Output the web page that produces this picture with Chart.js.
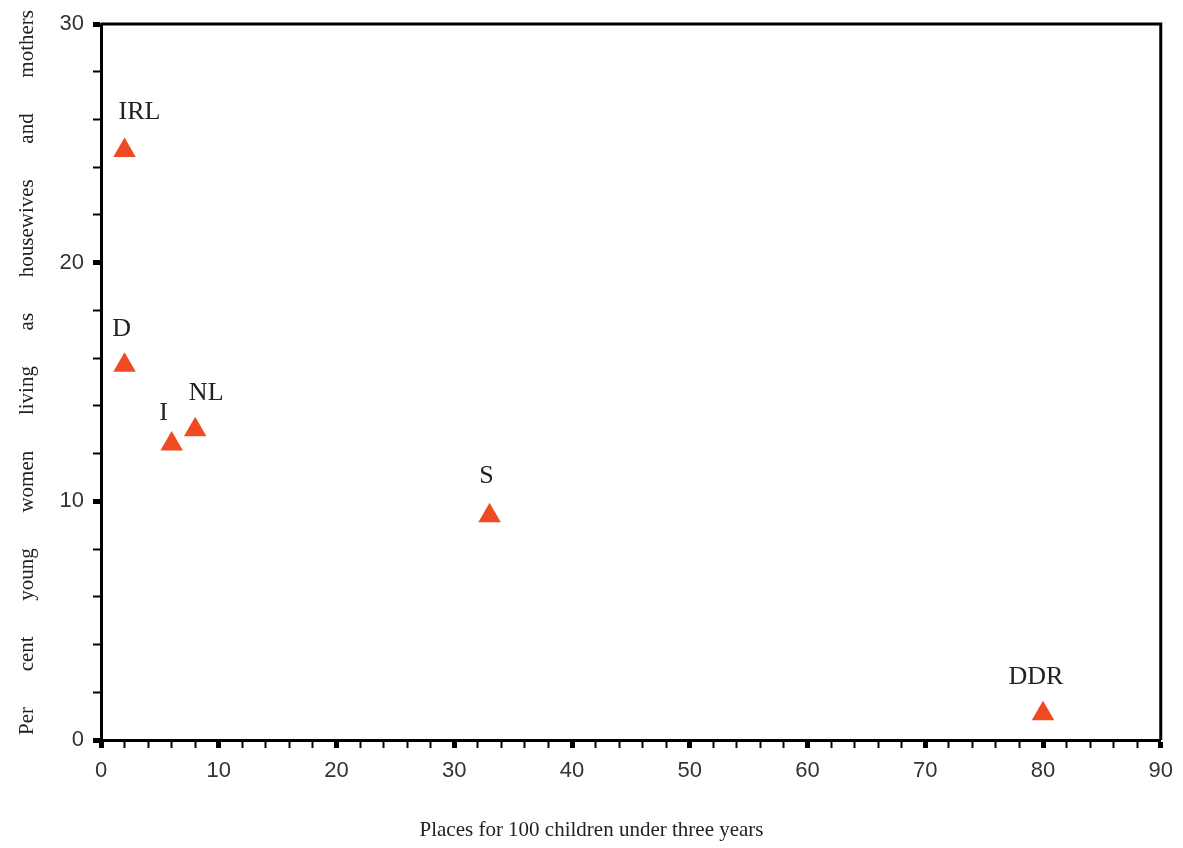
<!DOCTYPE html>
<html>
<head>
<meta charset="utf-8">
<script src="https://cdn.jsdelivr.net/npm/chart.js@4.4.1/dist/chart.umd.min.js"></script>
<style>
  html, body { margin: 0; padding: 0; background: #fff; }
  #wrap { width: 1183px; height: 848px; position: relative; }
</style>
</head>
<body>
<div id="wrap"><canvas id="chart" width="1183" height="848"></canvas></div>
<script>
// --- data ---
const countries = ['IRL', 'D', 'I', 'NL', 'S', 'DDR'];
const childcarePlaces = [2, 2, 6, 8, 33, 80];
const housewivesPct = [24.7, 15.7, 12.4, 13.0, 9.4, 1.1];
const xTickLabels = [0, 10, 20, 30, 40, 50, 60, 70, 80, 90];
const yTickLabels = [0, 10, 20, 30];

const xTitle = 'Places for 100 children under three years';
const yTitleWords = ['Per', 'cent', 'young', 'women', 'living', 'as', 'housewives', 'and', 'mothers'];

// label offsets from each marker (px)
const labelOffsets = {
    IRL: [15, -38], D: [-3, -36], I: [-8, -31], NL: [11, -37], S: [-3, -39], DDR: [-7, -37]
};

const serif = "'Liberation Serif', 'Times New Roman', serif";
const sans = "'Liberation Sans', Arial, sans-serif";

// frame (top + right) and texts
const decorPlugin = {
    id: 'decor',
    afterDraw(chart) {
        const { ctx, chartArea: a } = chart;
        ctx.save();
        ctx.strokeStyle = '#000';
        ctx.lineWidth = 3;
        ctx.beginPath();
        ctx.moveTo(a.left, a.top);
        ctx.lineTo(a.right, a.top);
        ctx.lineTo(a.right, a.bottom);
        ctx.stroke();

        // point labels
        const meta = chart.getDatasetMeta(0);
        ctx.font = `26px ${serif}`;
        ctx.fillStyle = '#222';
        ctx.textAlign = 'center';
        ctx.textBaseline = 'middle';
        meta.data.forEach((pt, i) => {
            const name = countries[i];
            const off = labelOffsets[name] || [0, -36];
            ctx.fillText(name, pt.x + off[0], pt.y + off[1]);
        });

        // x title
        ctx.font = `21px ${serif}`;
        ctx.fillText(xTitle, chart.width / 2, 830);

        // y title, words spread over the axis height
        ctx.translate(27, 0);
        ctx.rotate(-Math.PI / 2);
        ctx.textAlign = 'left';
        const start = -735, end = -10;
        const widths = yTitleWords.map(w => ctx.measureText(w).width);
        const total = widths.reduce((s, w) => s + w, 0);
        const gap = (end - start - total) / (yTitleWords.length - 1);
        let pos = start;
        yTitleWords.forEach((w, i) => {
            ctx.fillText(w, pos, 0);
            pos += widths[i] + gap;
        });
        ctx.restore();
    }
};

const tickW = (c) => (c.tick && c.tick.value % 10 === 0 ? 5 : 2);

new Chart(document.getElementById('chart').getContext('2d'), {
    type: 'scatter',
    data: {
        datasets: [{
            data: childcarePlaces.map((x, i) => ({ x, y: housewivesPct[i] })),
            pointStyle: 'triangle',
            pointRadius: 13,
            pointHoverRadius: 13,
            backgroundColor: '#EF4B23',
            borderWidth: 0,
            clip: false
        }]
    },
    options: {
        responsive: false,
        animation: false,
        layout: { padding: { top: 24, right: 18, left: 0, bottom: 0 } },
        plugins: { legend: { display: false }, tooltip: { enabled: false } },
        scales: {
            x: {
                type: 'linear', min: 0, max: 90,
                afterFit(s) { s.height = 108; },
                border: { color: '#000', width: 3 },
                grid: { drawOnChartArea: false, drawTicks: true, tickLength: 8, tickColor: '#000', tickWidth: tickW },
                ticks: {
                    stepSize: 2, autoSkip: false, maxRotation: 0, padding: 10,
                    color: '#333', font: { family: sans, size: 22 },
                    callback: v => (xTickLabels.includes(v) ? v : '')
                }
            },
            y: {
                type: 'linear', min: 0, max: 30,
                afterFit(s) { s.width = 101; },
                border: { color: '#000', width: 3 },
                grid: { drawOnChartArea: false, drawTicks: true, tickLength: 8, tickColor: '#000', tickWidth: tickW },
                ticks: {
                    stepSize: 2, autoSkip: false, padding: 9,
                    color: '#333', font: { family: sans, size: 22 },
                    callback: v => (yTickLabels.includes(v) ? v : '')
                }
            }
        }
    },
    plugins: [decorPlugin]
});
</script>
</body>
</html>
